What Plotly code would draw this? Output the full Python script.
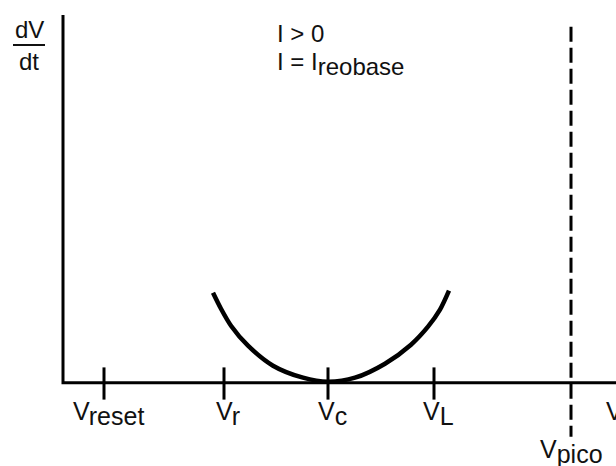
import plotly.graph_objects as go

# Membrane potential landmarks on the V axis (arbitrary units, origin at the dV/dt axis)
v_names = ["reset", "r", "c", "L"]
v_ticks = [41, 161, 265, 371]
v_pico = 508

# Phase curve dV/dt(V) at rheobase current, read as (V, dV/dt) pairs
curve_v = [150, 158, 168, 185, 210, 240, 265, 292, 322, 348, 365, 377, 386]
curve_dvdt = [90, 74, 57, 37, 17, 5, 1, 5, 19, 38, 56, 73, 92]

# Axis extents
v_min, v_max = -63, 553
dvdt_min, dvdt_max = -83.3, 382.7
dvdt_axis_top = 367.7
pico_span = [-54, 356]

FONT = "Liberation Sans, Arial, sans-serif"
INK = "#111111"

fig = go.Figure()

# V axis and dV/dt axis
fig.add_trace(go.Scatter(x=[0, 0, v_max], y=[dvdt_axis_top, 0, 0], mode="lines",
                         line=dict(color="black", width=3), hoverinfo="skip"))

# Tick marks crossing the V axis
fig.add_trace(go.Scatter(x=v_ticks, y=[-0.8] * len(v_ticks), mode="markers",
                         marker=dict(symbol="line-ns", size=23,
                                     line=dict(color="black", width=3)),
                         cliponaxis=False, hoverinfo="skip"))

# Spike peak threshold
fig.add_trace(go.Scatter(x=[v_pico, v_pico], y=[pico_span[1], pico_span[0]], mode="lines",
                         line=dict(color="black", width=3, dash="15px,6px"),
                         hoverinfo="skip"))

# dV/dt curve
fig.add_trace(go.Scatter(x=curve_v, y=curve_dvdt, mode="lines",
                         line=dict(color="black", width=4.5, shape="spline", smoothing=0.8),
                         hoverinfo="skip"))

def sub(main, s, size=25):
    return f"{main}<sub><span style='font-size:{size}px'>{s}</span></sub>"

# Tick labels
for v, name in zip(v_ticks, v_names):
    fig.add_annotation(x=v + 4, y=-12, xref="x", yref="y", text=sub("V", name),
                       showarrow=False, xanchor="center", yanchor="top",
                       font=dict(family=FONT, size=25, color=INK))

fig.add_annotation(x=v_pico, y=-50, xref="x", yref="y", text=sub("V", "pico"),
                   showarrow=False, xanchor="center", yanchor="top",
                   font=dict(family=FONT, size=25, color=INK))

# Axis name at the far right
fig.add_annotation(x=541, y=-12, xref="x", yref="y", text="V",
                   showarrow=False, xanchor="left", yanchor="top",
                   font=dict(family=FONT, size=25, color=INK))

# dV/dt as a stacked fraction
fig.add_annotation(x=-34, y=353.7, xref="x", yref="y", text="dV", showarrow=False,
                   xanchor="center", yanchor="middle",
                   font=dict(family=FONT, size=24, color=INK))
fig.add_annotation(x=-34, y=321.5, xref="x", yref="y", text="dt", showarrow=False,
                   xanchor="center", yanchor="middle",
                   font=dict(family=FONT, size=24, color=INK))
fig.add_shape(type="line", x0=-50, x1=-18, y0=337.7, y1=337.7, xref="x", yref="y",
              line=dict(color=INK, width=2))

# Stimulus condition
fig.add_annotation(x=212, y=365, xref="x", yref="y", text="I &gt; 0",
                   showarrow=False, xanchor="left", yanchor="top",
                   font=dict(family=FONT, size=24, color=INK))
fig.add_annotation(x=212, y=337, xref="x", yref="y",
                   text="I = I<sub><span style='font-size:24px'>reobase</span></sub>",
                   showarrow=False, xanchor="left", yanchor="top",
                   font=dict(family=FONT, size=24, color=INK))

fig.update_layout(
    width=616, height=466,
    margin=dict(l=0, r=0, t=0, b=0),
    paper_bgcolor="white", plot_bgcolor="white",
    showlegend=False,
    xaxis=dict(range=[v_min, v_max], visible=False, fixedrange=True),
    yaxis=dict(range=[dvdt_min, dvdt_max], visible=False, fixedrange=True),
)

fig.write_html("out.html")
